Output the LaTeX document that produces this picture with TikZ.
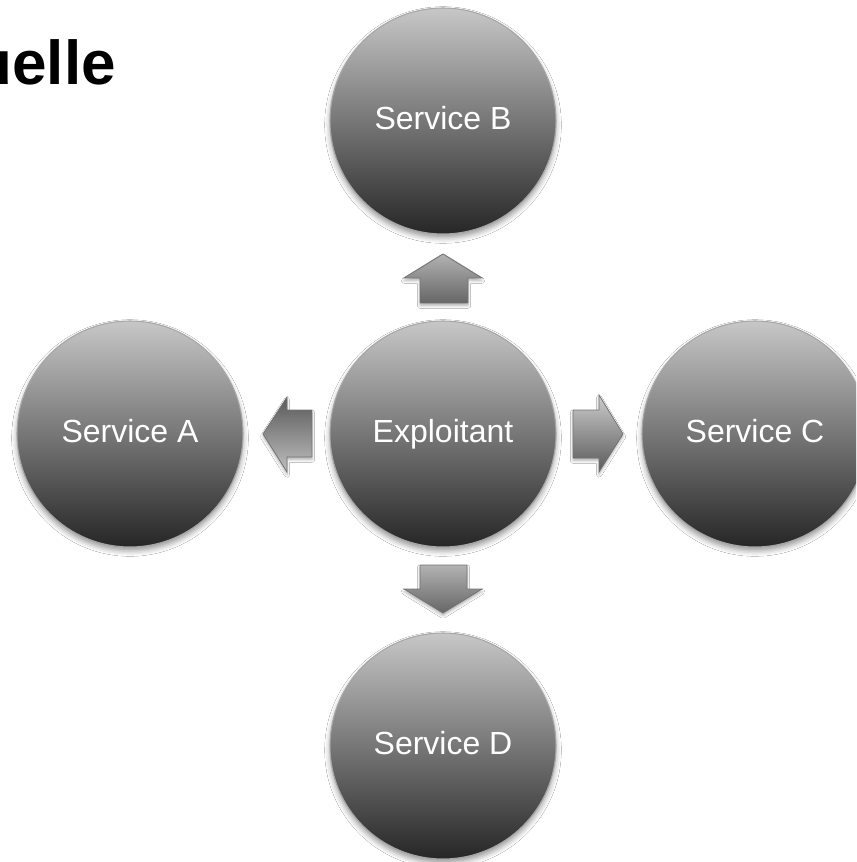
\documentclass[tikz,border=0pt]{standalone}
\usepackage{fontspec}
\setmainfont{Liberation Sans}
\usetikzlibrary{shadows.blur}
\tikzset{
  svc/.style={circle, minimum size=169.5pt, inner sep=0pt,
    text height=17pt, text depth=4pt,
    top color=black!22, bottom color=black!85,
    draw=black!35, line width=0.8pt,
    text=white, font=\fontsize{24}{28}\selectfont,
    blur shadow={shadow xshift=0pt, shadow yshift=-3pt, shadow blur radius=4pt, shadow opacity=40}},
  blk/.style={draw=black!55, line width=0.6pt, line join=miter,
    top color=black!30, bottom color=black!60,
    blur shadow={shadow xshift=0pt, shadow yshift=-2pt, shadow blur radius=2pt, shadow opacity=30}},
  title/.style={anchor=base east, inner sep=0pt, font=\bfseries\fontsize{46.5}{50}\selectfont, text=black}
}
\begin{document}
\begin{tikzpicture}[x=0.75pt,y=-0.75pt]
\useasboundingbox (0,0) rectangle (856,862);
\clip (0,0) rectangle (856,862);
\fill[white] (0,0) rectangle (856,862);
\node[title] (ttl) at (116,85) {uelle};
\node[svc] (B) at (443,121) {Service B};
\node[svc] (A) at (130,434) {Service A};
\node[svc] (E) at (443,434) {Exploitant};
\node[svc] (C) at (755,434) {Service C};
\node[svc] (D) at (443,746) {Service D};
% block arrows
\path[blk] (420,303)--(420,278)--(404,278)--(443,254)--(482,278)--(468,278)--(468,303)--cycle;
\path[blk] (420,565)--(467,565)--(467,589)--(482,589)--(443,613)--(404,589)--(420,589)--cycle;
\path[blk, top color=black!65, bottom color=black!25] (312,410)--(287,410)--(287,397)--(263,434)--(287,472)--(287,457)--(312,457)--cycle;
\path[blk, top color=black!20, bottom color=black!65] (573,410)--(599,410)--(599,395)--(623,434)--(599,472)--(599,458)--(573,458)--cycle;
\end{tikzpicture}
\end{document}
